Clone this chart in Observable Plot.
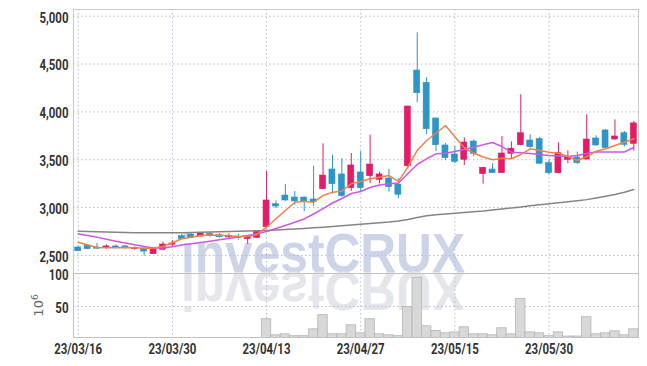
<!DOCTYPE html>
<html><head><meta charset="utf-8">
<script src="https://cdn.jsdelivr.net/npm/d3@7"></script>
<script src="https://cdn.jsdelivr.net/npm/@observablehq/plot@0.6"></script>
<style>
body{margin:0;background:#fff;}
#wrap{position:relative;width:647px;height:366px;overflow:hidden;}
#wm{position:absolute;left:0;top:0;z-index:0;}
#charts{position:absolute;left:0;top:0;z-index:1;}
#charts svg{display:block;background:transparent;overflow:visible;}
</style></head><body>
<div id="wrap">
<svg id="wm" width="647" height="366">
  <text x="181" y="271.5" font-family="'Liberation Sans',Arial,sans-serif" font-weight="900" font-size="55" fill="#cdd4e8" textLength="284" lengthAdjust="spacingAndGlyphs">investCRUX</text>
  <text x="181" y="271.5" transform="translate(0,543) scale(1,-1)" font-family="'Liberation Sans',Arial,sans-serif" font-weight="900" font-size="55" fill="#e5e5ec" textLength="284" lengthAdjust="spacingAndGlyphs">investCRUX</text>
</svg>
<div id="charts"></div>
</div>
<script>
const dates = ["23/03/16","23/03/17","23/03/20","23/03/21","23/03/22","23/03/23","23/03/24","23/03/27","23/03/28","23/03/29",
"23/03/30","23/03/31","23/04/03","23/04/04","23/04/05","23/04/06","23/04/07","23/04/10","23/04/11","23/04/12",
"23/04/13","23/04/14","23/04/17","23/04/18","23/04/19","23/04/20","23/04/21","23/04/24","23/04/25","23/04/26",
"23/04/27","23/04/28","23/05/02","23/05/03","23/05/04","23/05/08","23/05/09","23/05/10","23/05/11","23/05/12",
"23/05/15","23/05/16","23/05/17","23/05/18","23/05/19","23/05/22","23/05/23","23/05/24","23/05/25","23/05/26",
"23/05/30","23/05/31","23/06/01","23/06/02","23/06/05","23/06/07","23/06/08","23/06/09","23/06/12","23/06/13"];

const open  = [2583,2604,2583,2583,2594,2594,2565,2570,2513,2559, 2612,2701,2718,2697,2726,2711,2688,2695,2670,2684,
               2795,3035,3126,3105,3105,3085,3192,3398,3346,3203, 3367,3328,3290,3304,3241,3432,4432,4304,3931,3649,
               3555,3500,3690,3349,3398,3360,3562,3652,3701,3715, 3464,3359,3499,3523,3502,3722,3806,3711,3777,3666];
const high  = [2592,2615,2625,2610,2610,2605,2590,2590,2570,2640, 2655,2720,2735,2733,2740,2730,2727,2722,2700,2760,
               3377,3070,3241,3168,3110,3433,3667,3550,3510,3565, 3585,3757,3370,3400,3301,4060,4827,4357,3935,3670,
               3640,3729,3707,3420,3457,3742,3687,4179,3760,3733, 3500,3677,3593,3580,3970,3750,3815,3917,3795,3900];
const low   = [2540,2560,2565,2565,2570,2565,2555,2492,2510,2550, 2590,2665,2680,2695,2690,2680,2667,2660,2615,2680,
               2778,2990,3064,3023,2956,3010,3185,3140,3108,3170, 3170,3250,3249,3160,3092,3405,4095,3761,3586,3490,
               3460,3440,3530,3245,3358,3358,3508,3646,3620,3448, 3340,3355,3460,3450,3500,3640,3615,3705,3635,3590];
const close = [2544,2565,2570,2594,2583,2583,2575,2540,2565,2614, 2625,2670,2687,2729,2705,2690,2705,2684,2698,2747,
               3074,3011,3074,3064,3064,3056,3335,3244,3119,3440, 3203,3450,3346,3213,3134,4056,4195,3819,3652,3516,
               3478,3680,3562,3416,3360,3565,3615,3777,3631,3458, 3359,3568,3523,3464,3711,3649,3621,3743,3656,3880];
// volume in millions (10^6)
const volume = [1.5,1.2,1.0,0.9,0.8,0.9,1.0,1.6,2.0,1.4, 1.3,1.8,1.2,1.1,1.0,1.0,1.2,1.3,1.6,2.2,
                30.7,6.3,7.8,5.0,5.0,15.4,36.8,7.8,7.8,21.5, 9.3,30.7,7.8,6.3,5.0,49.0,93.4,20.0,12.8,9.3,
                10.8,18.5,7.8,7.8,6.3,17.0,7.8,61.3,10.8,9.3, 5.0,10.8,4.5,4.5,33.8,7.8,9.3,12.4,6.3,15.4];
const ma5   = [2638,2609,2583,2580,2580,2583,2580,2576,2576,2593, 2632,2674,2690,2708,2713,2711,2705,2698,2698,2719,
               2795,2883,2970,3056,3067,3056,3126,3161,3171,3249, 3273,3301,3318,3335,3273,3422,3597,3701,3777,3858,
               3740,3625,3570,3528,3500,3516,3510,3555,3614,3597, 3579,3568,3534,3492,3534,3589,3614,3649,3683,3719];
const ma20  = [2724,2708,2691,2670,2649,2630,2611,2593,2578,2578, 2590,2609,2622,2635,2649,2663,2677,2693,2708,2726,
               2750,2781,2813,2846,2881,2933,2990,3048,3095,3147, 3168,3210,3236,3249,3257,3353,3450,3510,3562,3568,
               3586,3607,3631,3656,3680,3638,3579,3573,3565,3555, 3544,3539,3534,3544,3565,3581,3581,3581,3581,3628];
const ma120 = [2753,2750,2747,2745,2743,2740,2738,2737,2737,2737, 2737,2738,2740,2742,2745,2747,2750,2752,2755,2758,
               2761,2766,2771,2776,2782,2789,2795,2802,2810,2818, 2826,2834,2841,2849,2860,2876,2897,2914,2925,2933,
               2940,2949,2957,2964,2975,2985,2996,3006,3019,3029, 3040,3050,3061,3071,3083,3100,3118,3137,3160,3189];

const tickLabels = ["23/03/16","23/03/30","23/04/13","23/04/27","23/05/15","23/05/30"];
const priceTicks = [2500,3000,3500,4000,4500,5000];
const volTicks = [50,100];

const rows = dates.map((d,i)=>({date:d, open:open[i], high:high[i], low:low[i], close:close[i],
  vol:volume[i], ma5:ma5[i], ma20:ma20[i], ma120:ma120[i], dir: close[i] >= open[i] ? "up" : "down"}));

const UP = "#e31c68", DOWN = "#2e95c7";
const font = "Roboto,'DejaVu Sans Condensed',sans-serif";
const grid = {stroke:"#b3bbd6", strokeOpacity:1, strokeDasharray:"1.5,2.5", strokeWidth:1};
const common = {width:647, marginLeft:73, marginRight:9,
  style:{fontFamily:font, fontSize:"15px", fontWeight:"bold", color:"#333", background:"transparent", overflow:"visible"}};
const xScale = {type:"band", domain:dates, padding:0, round:false, axis:null};

const price = Plot.plot({
  ...common, height:273, marginTop:9, marginBottom:0,
  x:xScale,
  y:{domain:[2311,5070], axis:null},
  color:{domain:["up","down"], range:[UP, DOWN]},
  marks:[
    Plot.gridX(tickLabels, grid),
    Plot.gridY(priceTicks, grid),
    Plot.axisY(priceTicks, {tickSize:0, tickPadding:5, tickFormat:d3.format(","), dy:1.5}),
    Plot.ruleX(rows, {x:"date", y1:"low", y2:"high", stroke:"dir", strokeWidth:1}),
    Plot.barY(rows, {x:"date", y1:"open", y2:"close", fill:"dir", stroke:"dir", strokeWidth:0.6, insetLeft:1.7, insetRight:1.7}),
    Plot.line(rows, {x:"date", y:"ma120", stroke:"#858585", strokeWidth:1.5}),
    Plot.line(rows, {x:"date", y:"ma20", stroke:"#cc58e8", strokeWidth:1.5}),
    Plot.line(rows, {x:"date", y:"ma5", stroke:"#ef8247", strokeWidth:1.5}),
    Plot.frame({stroke:"#c9c9c9"})
  ]
});

const vol = Plot.plot({
  ...common, height:93, marginTop:0, marginBottom:29,
  x:xScale,
  y:{domain:[3,100], axis:null},
  marks:[
    Plot.gridX(tickLabels, grid),
    Plot.gridY([50], grid),
    Plot.barY(rows, {x:"date", y:"vol", fill:"#d8d8d8", stroke:"#b5b5b5", strokeWidth:0.8, clip:true}),
    Plot.axisX(tickLabels, {tickSize:0, tickPadding:6, label:null}),
    Plot.axisY(volTicks, {tickSize:0, tickPadding:5, dy:2, label:"10", labelAnchor:"center", labelArrow:"none", labelOffset:40}),
    Plot.frame({stroke:"#c2c2c2"})
  ]
});

document.getElementById("charts").append(price, vol);

// y-axis unit label 10^6 with a real superscript
d3.select(vol).selectAll('g[aria-label="y-axis label"] text')
  .attr("font-weight","normal").attr("fill","#666").style("font-size","13px")
  .style("font-family","'DejaVu Sans',sans-serif")
  .each(function(){ d3.select(this).append("tspan").attr("dy","-5").style("font-size","9px").text("6"); });

// condense tick labels to match the narrow face of the original
const ticks = d3.selectAll('#charts g[aria-label$="tick label"] text');
let ref = null;
ticks.each(function(){ if (this.textContent === "23/03/16") ref = this.getComputedTextLength(); });
const factor = ref ? 48 / ref : 0.8;
ticks.each(function(){
  const w = this.getComputedTextLength();
  this.setAttribute("textLength", (w * factor).toFixed(1));
  this.setAttribute("lengthAdjust", "spacingAndGlyphs");
});
</script>
</body></html>
